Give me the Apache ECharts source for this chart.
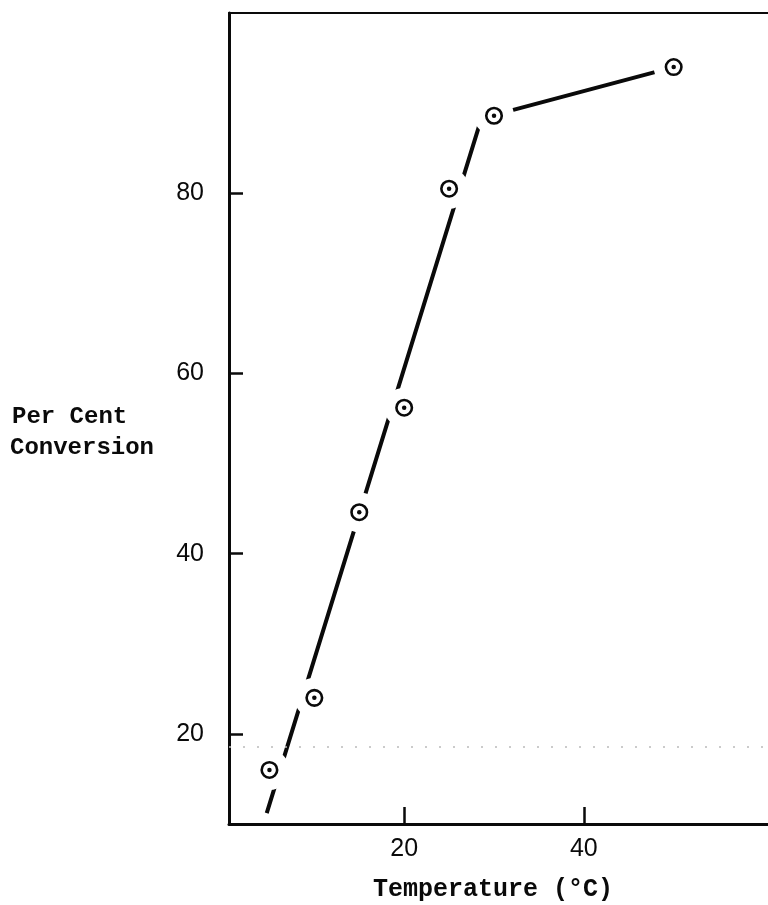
<!DOCTYPE html>
<html>
<head>
<meta charset="utf-8">
<script src="https://cdn.jsdelivr.net/npm/echarts@6/dist/echarts.min.js"></script>
<style>html,body{margin:0;padding:0;background:#fff;}#c{width:768px;height:905px;}</style>
</head>
<body>
<div id="c"></div>
<script>
// Measured data points
const temperature = [5, 10, 15, 20, 25, 30, 50];
const conversion = [16, 24, 44.6, 56.2, 80.5, 88.6, 94.0];
// Hand-drawn fitted line vertices
const fitTemperature = [4.7, 28.6, 50];
const fitConversion = [11.2, 88.3, 94.0];
// Tick labels
const xTicks = [20, 40];
const yTicks = [20, 40, 60, 80];
// Faint scan artifact line level
const artifactLevel = [18.6];

const ink = '#0a0a0a';
const points = temperature.map((t, i) => [t, conversion[i]]);
const fit = fitTemperature.map((t, i) => [t, fitConversion[i]]);

const chart = echarts.init(document.getElementById('c'));
chart.setOption({
  animation: false,
  backgroundColor: '#fff',
  grid: { left: 229, top: 13, width: 544, height: 811, containLabel: false },
  xAxis: [{
    type: 'value', min: 0.5, max: 60.5,
    axisLine: { onZero: false, lineStyle: { color: ink, width: 3 } },
    axisTick: { inside: true, length: 17, customValues: xTicks, lineStyle: { color: ink, width: 2.5 } },
    axisLabel: { customValues: xTicks, fontFamily: 'Liberation Sans', fontSize: 25, color: ink, margin: 13 },
    splitLine: { show: false }
  }, {
    type: 'value', min: 0.5, max: 60.5, position: 'top',
    axisLine: { onZero: false, lineStyle: { color: ink, width: 2 } },
    axisTick: { show: false }, axisLabel: { show: false }, splitLine: { show: false }
  }],
  yAxis: [{
    type: 'value', min: 10, max: 100,
    axisLine: { onZero: false, lineStyle: { color: ink, width: 3 } },
    axisTick: { inside: true, length: 14, customValues: yTicks, lineStyle: { color: ink, width: 2.5 } },
    axisLabel: { customValues: yTicks, fontFamily: 'Liberation Sans', fontSize: 25, color: ink, margin: 25 },
    splitLine: { show: false }
  }],
  graphic: [
    { type: 'text', left: 12, top: 405, style: { text: 'Per Cent', font: 'bold 24px "Liberation Mono"', fill: ink } },
    { type: 'text', left: 10, top: 436, style: { text: 'Conversion', font: 'bold 24px "Liberation Mono"', fill: ink } },
    { type: 'text', left: 373, top: 877, style: { text: 'Temperature (°C)', font: 'bold 25px "Liberation Mono"', fill: ink } }
  ],
  series: [
    {
      type: 'line', data: fit, showSymbol: false, z: 2, silent: true,
      lineStyle: { color: ink, width: 4 },
      markLine: {
        silent: true, symbol: 'none', label: { show: false },
        lineStyle: { color: '#bbb', type: [2, 12], width: 1.5 },
        data: artifactLevel.map(v => ({ yAxis: v }))
      }
    },
    { type: 'scatter', data: points, symbol: 'circle', symbolSize: 40, z: 3, silent: true,
      itemStyle: { color: '#fff', opacity: 1 } },
    { type: 'scatter', data: points, symbol: 'circle', symbolSize: 15.5, z: 4, silent: true,
      itemStyle: { color: '#fff', borderColor: ink, borderWidth: 2.6, opacity: 1 } },
    { type: 'scatter', data: points, symbol: 'circle', symbolSize: 4.5, z: 5, silent: true,
      itemStyle: { color: ink, opacity: 1 } }
  ]
});
</script>
</body>
</html>
